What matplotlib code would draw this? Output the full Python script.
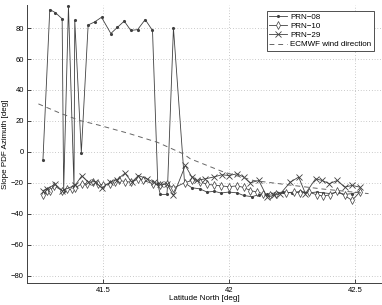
import numpy as np
import matplotlib
matplotlib.use('Agg')
import matplotlib.pyplot as plt

# Latitude [deg] / slope PDF azimuth [deg] per satellite track
prn08_lat = [41.262, 41.289, 41.311, 41.338, 41.344, 41.363, 41.385, 41.388, 41.414, 41.441,
             41.467, 41.494, 41.531, 41.557, 41.584, 41.610, 41.637, 41.667, 41.696, 41.717,
             41.727, 41.753, 41.756, 41.779, 41.823, 41.852, 41.883, 41.912, 41.941, 41.967,
             41.998, 42.031, 42.057, 42.090, 42.117, 42.150, 42.183, 42.215, 42.249, 42.282,
             42.315, 42.346, 42.373, 42.401, 42.429, 42.457, 42.487, 42.517]
prn08_az = [-5, 92, 90, 86, -25, 94, -23, 85, -0.5, 82,
            84, 87, 76.5, 80.5, 84.5, 78.5, 79, 85.5, 78.5, -21,
            -27.5, -27.5, -21, 80, -20, -23.2, -23.9, -26, -25.5, -26.6,
            -26, -26.5, -28.2, -29, -27.7, -27.5, -26.5, -26, -26.5, -25.5,
            -26.5, -26, -26.5, -27, -26, -27.5, -27, -25.5]

prn10_lat = [41.263, 41.277, 41.290, 41.307, 41.337, 41.356, 41.376, 41.389, 41.416, 41.436,
             41.462, 41.479, 41.498, 41.528, 41.548, 41.564, 41.588, 41.612, 41.640, 41.660,
             41.698, 41.724, 41.753, 41.779, 41.823, 41.852, 41.883, 41.912, 41.941, 41.967,
             41.998, 42.031, 42.057, 42.084, 42.110, 42.134, 42.163, 42.187, 42.223, 42.256,
             42.282, 42.315, 42.346, 42.372, 42.401, 42.428, 42.457, 42.487, 42.517]
prn10_az = [-27.7, -25.6, -25, -22, -25, -24.3, -24.3, -23.4, -20.6, -20.6,
            -19.6, -20.6, -21.3, -20.6, -19.6, -18.5, -19.2, -19.6, -17.4, -18.5,
            -20.6, -21.7, -20.6, -23.4, -20, -18.5, -19.2, -21, -21.5, -22,
            -22.5, -22, -23, -25, -26, -27, -28.2, -27, -26.5, -26,
            -26.5, -26, -27.7, -28.6, -27.7, -25.6, -28.2, -31.4, -26]

prn29_lat = [41.263, 41.277, 41.310, 41.338, 41.389, 41.416, 41.442, 41.469, 41.495, 41.528,
             41.555, 41.587, 41.614, 41.640, 41.674, 41.700, 41.727, 41.753, 41.779, 41.826,
             41.852, 41.872, 41.905, 41.938, 41.971, 41.998, 42.031, 42.057, 42.084, 42.117,
             42.150, 42.176, 42.203, 42.242, 42.275, 42.302, 42.342, 42.368, 42.397, 42.428,
             42.457, 42.487, 42.517]
prn29_az = [-25, -23.9, -21, -25, -21.7, -15.5, -19.6, -19.2, -23.4, -19.6,
            -18, -13.8, -19.6, -15.3, -17.4, -19.6, -21, -20.6, -28.2, -8.8,
            -16.3, -18.5, -17.4, -16.3, -14.8, -15.3, -14.2, -16.3, -20, -18.5,
            -29.2, -28.2, -27, -19.6, -16.3, -27, -17.4, -18.5, -20.6, -18.5,
            -22.8, -21.7, -22.8]

ecmwf_lat = [41.244, 41.33, 41.409, 41.48, 41.6, 41.715, 41.818, 41.846, 41.977, 42.096,
             42.242, 42.369, 42.552]
ecmwf_az = [31, 25, 20.2, 17.4, 12, 6.2, -1.3, -4.5, -13, -18.5,
            -21.5, -24, -27]

plt.rcParams['font.family'] = ['Liberation Sans', 'DejaVu Sans']

fig = plt.figure(figsize=(3.82, 3.05), dpi=100)
ax = fig.add_axes([0.0715, 0.071, 0.925, 0.913])

lc = '0.25'
ax.plot(prn08_lat, prn08_az, '-', color=lc, lw=0.6, marker='.', ms=2.5, label='PRN\u221208')
ax.plot(prn10_lat, prn10_az, '-', color=lc, lw=0.6, marker='d', ms=4, mfc='white',
        mec=lc, mew=0.5, label='PRN\u221210')
ax.plot(prn29_lat, prn29_az, '-', color=lc, lw=0.6, marker='x', ms=5, mew=0.6,
        label='PRN\u221229')
ax.plot(ecmwf_lat, ecmwf_az, '--', color='0.4', lw=0.7, dashes=(5, 4),
        label='ECMWF wind direction')

ax.set_xlim(41.2, 42.6)
ax.set_ylim(-85, 95)
ax.set_xticks([41.5, 42, 42.5])
ax.set_xticklabels(['41.5', '42', '42.5'])
ax.set_yticks(np.arange(-80, 81, 20))
ax.set_yticklabels([str(v).replace('-', '\u2212') for v in range(-80, 81, 20)])
ax.grid(True, linestyle=(0, (1, 3)), color='0.6', lw=0.5)
ax.tick_params(direction='in', length=3, width=0.5, labelsize=5.5, pad=2.5)
for s in ['top', 'right']:
    ax.spines[s].set_visible(False)
for s in ['left', 'bottom']:
    ax.spines[s].set_linewidth(0.7)
    ax.spines[s].set_color('0.25')

ax.set_xlabel('Latitude North [deg]', fontsize=5.8, labelpad=1)
ax.set_ylabel('Slope PDF Azimuth [deg]', fontsize=5.8, labelpad=1.5)

leg = ax.legend(loc='upper right', bbox_to_anchor=(0.979, 0.965), bbox_transform=fig.transFigure,
                fontsize=5.8, fancybox=False, framealpha=1, edgecolor='0.2',
                handlelength=2.2, handletextpad=0.4, borderpad=0.3, labelspacing=0.2,
                borderaxespad=0)
leg.get_frame().set_linewidth(0.6)

fig.savefig('out.png', dpi=100)
